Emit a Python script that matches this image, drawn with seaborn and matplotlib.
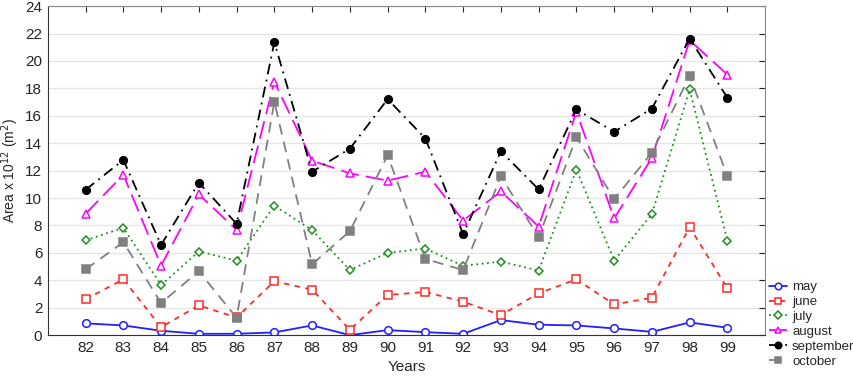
import numpy as np
import pandas as pd
import seaborn as sns
import matplotlib.pyplot as plt

# Data
years = [82, 83, 84, 85, 86, 87, 88, 89, 90, 91, 92, 93, 94, 95, 96, 97, 98, 99]
may = [0.86, 0.71, 0.32, 0.1, 0.1, 0.2, 0.71, 0.0, 0.37, 0.22, 0.1, 1.1, 0.76, 0.71, 0.49, 0.24, 0.93, 0.54]
june = [2.61, 4.07, 0.58, 2.17, 1.29, 3.93, 3.32, 0.39, 2.93, 3.15, 2.44, 1.46, 3.05, 4.07, 2.24, 2.73, 7.88, 3.41]
july = [6.92, 7.83, 3.66, 6.1, 5.44, 9.44, 7.66, 4.75, 6.0, 6.32, 5.05, 5.37, 4.71, 12.07, 5.44, 8.83, 17.92, 6.88]
august = [8.85, 11.7, 5.07, 10.26, 7.68, 18.48, 12.73, 11.8, 11.27, 11.92, 8.36, 10.48, 7.92, 16.3, 8.51, 12.93, 21.5, 19.0]
september = [10.6, 12.78, 6.58, 11.12, 8.12, 21.36, 11.92, 13.6, 17.21, 14.34, 7.37, 13.41, 10.63, 16.46, 14.83, 16.53, 21.63, 17.31]
october = [4.8, 6.78, 2.34, 4.66, 1.27, 17.02, 5.17, 7.58, 13.12, 5.56, 4.75, 11.58, 7.14, 14.43, 9.92, 13.31, 18.9, 11.61]

series = {
    "may": may, "june": june, "july": july,
    "august": august, "september": september, "october": october,
}

# line styles per month
styles = {
    "may": dict(color="#1f1fff", ls="-", marker="o", mfc="white"),
    "june": dict(color="#ff2a2a", ls=(0, (3, 3)), marker="s", mfc="white"),
    "july": dict(color="#1f8f1f", ls=(0, (1, 2)), marker="D", mfc="white", ms=4.5),
    "august": dict(color="#ff00ff", ls=(0, (10, 4)), marker="^", mfc="white"),
    "september": dict(color="black", ls=(0, (6, 3, 1, 3)), marker="o", mfc="black"),
    "october": dict(color="#808080", ls=(0, (6, 4)), marker="s", mfc="#808080"),
}

sns.set_style("white")
plt.rcParams["font.family"] = ["Liberation Sans", "DejaVu Sans"]

fig = plt.figure(figsize=(8.54, 3.8), dpi=100)
ax = fig.add_axes([0.056, 0.118, 0.84, 0.866])

for name, vals in series.items():
    st = dict(styles[name])
    ms = st.pop("ms", 5.5)
    mfc = st.pop("mfc")
    sns.lineplot(x=years, y=vals, ax=ax, label=name, color=st["color"],
                 linestyle=st["ls"], marker=st["marker"], markersize=ms,
                 markerfacecolor=mfc, markeredgecolor=st["color"],
                 markeredgewidth=1.1, linewidth=1.3)

ax.set_xlim(81, 100)
ax.set_ylim(0, 24)
ax.set_xticks(years)
ax.set_xticklabels([str(y) for y in years])
ax.set_yticks(np.arange(0, 25, 2))
ax.yaxis.grid(True, color="#e6e6e6", linewidth=1)
ax.tick_params(axis="both", labelsize=11, length=4, direction="in", pad=4,
               top=True, right=True, bottom=False, left=False)
for side in ["left", "bottom"]:
    ax.spines[side].set_color("#333333")
for side in ["top", "right"]:
    ax.spines[side].set_color("#888888")

ax.set_xlabel("Years", fontsize=11)
ax.set_ylabel("Area x 10$^{12}$ (m$^2$)", fontsize=10)
ax.yaxis.set_label_coords(-0.037, 0.5)

leg = ax.legend(loc="lower left", bbox_to_anchor=(0.998, -0.115), frameon=False,
                fontsize=9.5, handlelength=1.4, handletextpad=0.35,
                labelspacing=0.2, borderaxespad=0, markerscale=0.85)

fig.savefig("out.png", dpi=100)
